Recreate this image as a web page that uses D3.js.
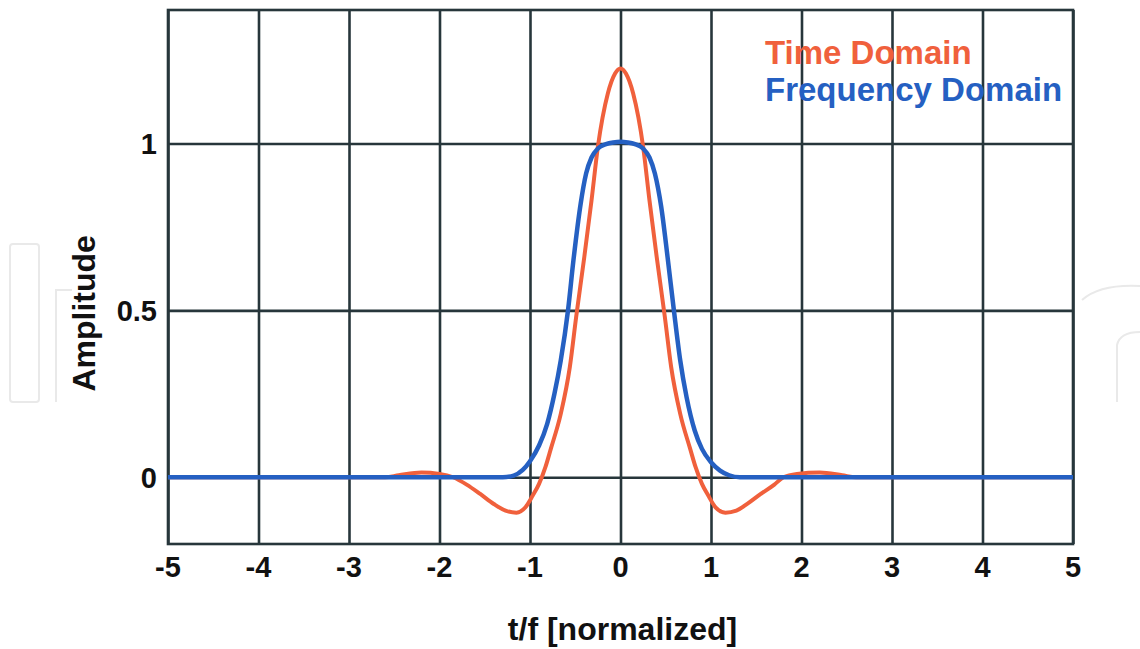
<!DOCTYPE html>
<html>
<head>
<meta charset="utf-8">
<script src="https://cdn.jsdelivr.net/npm/d3@7"></script>
<style>
  body { margin: 0; background: #fff; }
  text { font-family: "Liberation Sans", Arial, sans-serif; font-weight: bold; }
</style>
</head>
<body>
<div id="chart"></div>
<script>
// tick values
var xTicks = [-5, -4, -3, -2, -1, 0, 1, 2, 3, 4, 5];
var yTicks = [0, 0.5, 1];

// Time Domain curve (red)
var timeX = [-5, -2.6, -2.45, -2.2, -2.0, -1.85, -1.7, -1.55, -1.4, -1.27, -1.15, -1.05, -0.97, -0.9, -0.83, -0.77, -0.66, -0.56, -0.49, -0.40, -0.32, -0.25, -0.14, -0.06, 0,
             0.06, 0.14, 0.25, 0.32, 0.40, 0.49, 0.56, 0.66, 0.77, 0.83, 0.9, 0.97, 1.05, 1.16, 1.28, 1.4, 1.55, 1.7, 1.8, 1.95, 2.2, 2.45, 2.6, 5];
var timeY = [0, 0, 0.006, 0.014, 0.01, 0, -0.022, -0.05, -0.08, -0.1, -0.106, -0.09, -0.055, -0.02, 0.03, 0.085, 0.19, 0.33, 0.48, 0.66, 0.83, 0.99, 1.15, 1.21, 1.225,
             1.21, 1.15, 0.99, 0.83, 0.66, 0.48, 0.33, 0.19, 0.085, 0.03, -0.02, -0.055, -0.09, -0.106, -0.1, -0.08, -0.05, -0.022, 0, 0.01, 0.014, 0.006, 0, 0];

// Frequency Domain curve (blue)
var freqX = [-5, -1.3, -1.18, -1.08, -1.0, -0.9, -0.81, -0.73, -0.66, -0.58, -0.52, -0.44, -0.38, -0.32, -0.25, -0.16, -0.08, 0,
             0.08, 0.16, 0.25, 0.32, 0.38, 0.45, 0.52, 0.59, 0.66, 0.73, 0.82, 0.9, 1.0, 1.1, 1.2, 1.32, 5];
var freqY = [0, 0, 0.005, 0.022, 0.048, 0.095, 0.16, 0.25, 0.35, 0.5, 0.65, 0.82, 0.91, 0.958, 0.985, 0.998, 1.003, 1.005,
             1.003, 0.998, 0.985, 0.958, 0.91, 0.81, 0.66, 0.5, 0.35, 0.24, 0.14, 0.085, 0.045, 0.02, 0.006, 0, 0];

var seriesNames = ["Time Domain", "Frequency Domain"];
var seriesColors = ["#f0603c", "#2560c2"];

var W = 1140, H = 649;
var margin = {top: 10, left: 168, right: 67, bottom: 105};
var w = W - margin.left - margin.right;
var h = H - margin.top - margin.bottom;

var svg = d3.select("#chart").append("svg")
  .attr("width", W)
  .attr("height", H);

// faint publisher watermark behind the chart
var wm = svg.append("g")
  .attr("fill", "none")
  .attr("stroke", "#e9e9e9")
  .attr("stroke-width", 2);
wm.append("rect").attr("x", 10).attr("y", 244).attr("width", 29).attr("height", 158).attr("rx", 3);
wm.append("path").attr("d", "M56,402 L56,290 L72,290");
wm.append("path").attr("d", "M1082,300 Q1100,284 1140,286 M1117,402 L1117,345 Q1120,332 1140,332");

var g = svg.append("g")
  .attr("transform", "translate(" + margin.left + "," + margin.top + ")");

var x = d3.scaleLinear().domain([-5, 5]).range([0, w]);
var y = d3.scaleLinear().domain([-0.2, 1.4]).range([h, 0]);

var gridColor = "#27363b";

// grid lines via axes
var xGrid = g.append("g")
  .attr("transform", "translate(0," + h + ")")
  .call(d3.axisBottom(x).tickValues(xTicks).tickSize(-h).tickFormat(""));
var yGrid = g.append("g")
  .call(d3.axisLeft(y).tickValues(yTicks).tickSize(-w).tickFormat(""));
[xGrid, yGrid].forEach(function(ax) {
  ax.select(".domain").remove();
  ax.selectAll("line").attr("stroke", gridColor).attr("stroke-width", 2.6);
});

// frame
g.append("rect")
  .attr("width", w).attr("height", h)
  .attr("fill", "none")
  .attr("stroke", gridColor)
  .attr("stroke-width", 2.6);

// tick labels
g.selectAll(".xlab")
  .data(xTicks)
  .enter().append("text")
  .attr("class", "xlab")
  .attr("x", function(d) { return x(d); })
  .attr("y", h + 33)
  .attr("text-anchor", "middle")
  .attr("font-size", 29)
  .attr("fill", "#111")
  .text(function(d) { return d; });

g.selectAll(".ylab")
  .data(yTicks)
  .enter().append("text")
  .attr("class", "ylab")
  .attr("x", -11)
  .attr("y", function(d) { return y(d); })
  .attr("dy", "0.36em")
  .attr("text-anchor", "end")
  .attr("font-size", 29)
  .attr("fill", "#111")
  .text(function(d) { return d; });

// axis titles
svg.append("text")
  .attr("x", margin.left + x(0) + 2)
  .attr("y", 640)
  .attr("text-anchor", "middle")
  .attr("font-size", 32)
  .attr("fill", "#111")
  .text("t/f [normalized]");

svg.append("text")
  .attr("transform", "translate(95," + (margin.top + y(0.5) + 3) + ") rotate(-90)")
  .attr("text-anchor", "middle")
  .attr("font-size", 32)
  .attr("fill", "#111")
  .text("Amplitude");

// curves
var line = d3.line()
  .x(function(d) { return x(d[0]); })
  .y(function(d) { return y(d[1]); })
  .curve(d3.curveMonotoneX);

var timeData = d3.zip(timeX, timeY);
var freqData = d3.zip(freqX, freqY);

g.append("path")
  .datum(timeData)
  .attr("d", line)
  .attr("fill", "none")
  .attr("stroke", seriesColors[0])
  .attr("stroke-width", 4)
  .attr("stroke-linejoin", "round");

g.append("path")
  .datum(freqData)
  .attr("d", line)
  .attr("fill", "none")
  .attr("stroke", seriesColors[1])
  .attr("stroke-width", 4.5)
  .attr("stroke-linejoin", "round");

// legend
svg.selectAll(".legend")
  .data(seriesNames)
  .enter().append("text")
  .attr("class", "legend")
  .attr("x", 765)
  .attr("y", function(d, i) { return 64 + i * 37; })
  .attr("font-size", 33)
  .attr("fill", function(d, i) { return seriesColors[i]; })
  .text(function(d) { return d; });
</script>
</body>
</html>
